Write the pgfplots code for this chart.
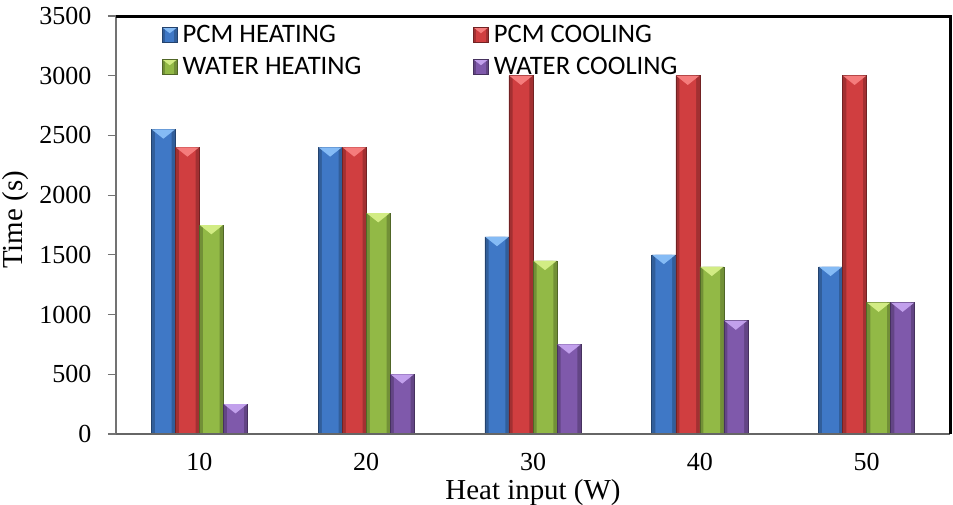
\documentclass[border=0pt]{standalone}
\usepackage{fontspec}
\setmainfont{Liberation Serif}
\newfontfamily\legendfont{Carlito}
\usepackage{pgfplots}
\pgfplotsset{compat=1.18}
\usepackage{pgfplotstable}

\definecolor{pcmheat}{HTML}{3F78C6}
\definecolor{pcmheatL}{HTML}{85BBF5}
\definecolor{pcmcool}{HTML}{D03E40}
\definecolor{pcmcoolL}{HTML}{F57C7C}
\definecolor{wheat}{HTML}{92B946}
\definecolor{wheatL}{HTML}{D2EC84}
\definecolor{wcool}{HTML}{7F59AB}
\definecolor{wcoolL}{HTML}{C2A0EC}

% triangular highlight drawn on top of each bar
\pgfdeclareplotmark{bevel}{%
  \pgfpathmoveto{\pgfqpoint{-\pgfplotmarksize}{0pt}}%
  \pgfpathlineto{\pgfqpoint{\pgfplotmarksize}{0pt}}%
  \pgfpathlineto{\pgfqpoint{0pt}{-0.8\pgfplotmarksize}}%
  \pgfpathclose
  \pgfusepathqfill
}

\pgfplotstableread{
W   pcmh pcmc wh   wc
10  2550 2400 1750 250
20  2400 2400 1850 500
30  1650 3000 1450 750
40  1500 3000 1400 950
50  1400 3000 1100 1100
}\heatdata

\pgfplotsset{
  % darker full-width body of a bar
  barbody/.style={
    ybar, bar width=1.44, bar shift=0pt, forget plot,
    draw=#1!55!black, line width=0.4pt, fill=#1!78!black, mark=none,
  },
  % brighter core of a bar with its top highlight
  barcore/.style 2 args={
    ybar, bar width=1.0, bar shift=0pt,
    draw=none, fill=#1,
    mark=bevel, mark size=8.7pt,
    mark options={fill=#2, draw=none},
    legend image code/.code={
      \path[fill=#1!78!black] (0pt,-5.5pt) rectangle (11pt,5.5pt);
      \path[fill=#1] (2pt,-5.5pt) rectangle (9pt,5.5pt);
      \path[fill=#2] (0pt,5.5pt) -- (11pt,5.5pt) -- (5.5pt,1.2pt) -- cycle;
      \path[draw=#1!55!black, fill=none, line width=0.4pt] (0pt,-5.5pt) rectangle (11pt,5.5pt);
    },
  },
}

\begin{document}
\begin{tikzpicture}
\useasboundingbox (-87pt,-52.5pt) rectangle (627.75pt,325.5pt);
\begin{axis}[
  scale only axis, width=625.5pt, height=313.5pt,
  clip=false,
  xmin=5, xmax=55, ymin=0, ymax=3500,
  xtick={10,20,30,40,50},
  ytick={0,500,...,3500},
  axis line style={draw=none},
  tick align=outside,
  major tick length=6pt,
  xtick style={draw=none},
  ytick style={draw=black!55, line width=0.8pt},
  ytick pos=left,
  /pgf/number format/assume math mode=true,
  /pgf/number format/set thousands separator={},
  yticklabel style={font=\fontsize{19.5}{20}\selectfont, anchor=east, xshift=-9pt},
  xticklabel style={font=\fontsize{19.5}{20}\selectfont, anchor=center, yshift=-14.75pt},
  xlabel={Heat input (W)},
  ylabel={Time (s)},
  xlabel style={font=\fontsize{21.7}{22}\selectfont, at={(axis description cs:0.5,-0.14)}, anchor=center},
  ylabel style={font=\fontsize{21.7}{22}\selectfont, at={(axis description cs:-0.12,0.512)}, anchor=center},
  legend columns=2,
  legend cell align=left,
  legend style={at={(axis description cs:0.055,0.985)}, anchor=north west,
    draw=none, fill=none, inner sep=0pt, row sep=5.5pt,
    nodes={inner sep=2pt},
    font=\legendfont\fontsize{20}{22}\selectfont},
]
\addplot[barbody=pcmheat] table[x expr=\thisrow{W}-2.16, y=pcmh] {\heatdata};
\addplot[barcore={pcmheat}{pcmheatL}] table[x expr=\thisrow{W}-2.16, y=pcmh] {\heatdata};
\addlegendentry{\makebox[218pt][l]{\hspace{2pt}PCM HEATING}}
\addplot[barbody=pcmcool] table[x expr=\thisrow{W}-0.72, y=pcmc] {\heatdata};
\addplot[barcore={pcmcool}{pcmcoolL}] table[x expr=\thisrow{W}-0.72, y=pcmc] {\heatdata};
\addlegendentry{\hspace{2pt}PCM COOLING}
\addplot[barbody=wheat] table[x expr=\thisrow{W}+0.72, y=wh] {\heatdata};
\addplot[barcore={wheat}{wheatL}] table[x expr=\thisrow{W}+0.72, y=wh] {\heatdata};
\addlegendentry{\makebox[218pt][l]{\hspace{2pt}WATER HEATING}}
\addplot[barbody=wcool] table[x expr=\thisrow{W}+2.16, y=wc] {\heatdata};
\addplot[barcore={wcool}{wcoolL}] table[x expr=\thisrow{W}+2.16, y=wc] {\heatdata};
\addlegendentry{\hspace{2pt}WATER COOLING}

% frame: grey left and bottom axis lines, heavy black top and right edges
\draw[black!55, line width=1.5pt] (rel axis cs:0,0) -- (rel axis cs:0,1);
\draw[black!60, line width=2pt] (rel axis cs:0,0) -- (rel axis cs:1,0);
\draw[black, line width=2.25pt] (rel axis cs:0,1) -- (rel axis cs:1,1) -- (rel axis cs:1,0);
\end{axis}
\end{tikzpicture}
\end{document}
